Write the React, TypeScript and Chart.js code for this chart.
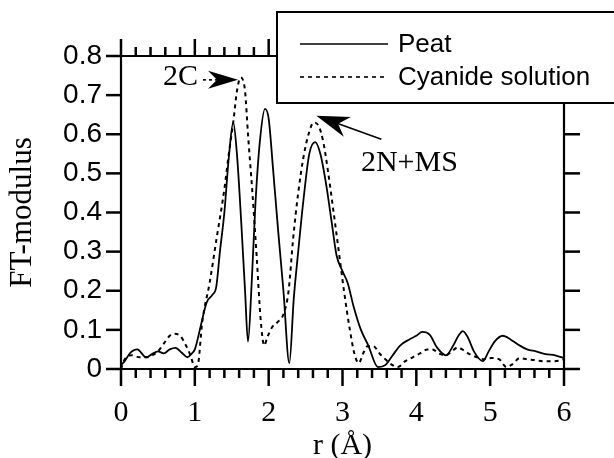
import React, { useEffect, useRef } from "react";
import { Chart, registerables } from "chart.js";

Chart.register(...registerables);

// ---- data ----
const seriesLabels = ["Peat", "Cyanide solution"];

const peatR = [
  0.0, 0.05, 0.12, 0.22, 0.34, 0.42, 0.5, 0.58, 0.66, 0.74, 0.82, 0.9, 0.96, 1.0,
  1.08, 1.16, 1.24, 1.29, 1.34, 1.4, 1.46, 1.52, 1.57, 1.63, 1.68, 1.72, 1.77,
  1.82, 1.88, 1.95, 2.0, 2.06, 2.13, 2.2, 2.28, 2.34, 2.4, 2.47, 2.55, 2.63, 2.7,
  2.78, 2.85, 2.92, 3.0, 3.07, 3.15, 3.25, 3.35, 3.48, 3.58, 3.68, 3.78, 3.9, 4.0,
  4.08, 4.18, 4.28, 4.4, 4.5, 4.57, 4.63, 4.7, 4.78, 4.9, 4.98, 5.06, 5.17, 5.28,
  5.4, 5.5, 5.62, 5.75, 5.88, 6.0,
];
const peatV = [
  0.01, 0.02, 0.04, 0.05, 0.03, 0.038, 0.045, 0.04, 0.05, 0.054, 0.042, 0.03, 0.04, 0.05,
  0.11, 0.17, 0.19, 0.21, 0.3, 0.4, 0.54, 0.63, 0.55, 0.37, 0.2, 0.07, 0.22,
  0.42, 0.58, 0.665, 0.64, 0.51, 0.35, 0.2, 0.015, 0.18, 0.3, 0.43, 0.55, 0.58, 0.55,
  0.47, 0.38, 0.29, 0.25, 0.22, 0.16, 0.1, 0.06, 0.005, 0.01, 0.035, 0.06, 0.075, 0.085,
  0.095, 0.088, 0.055, 0.035, 0.06, 0.085, 0.097, 0.08, 0.045, 0.02, 0.045, 0.07, 0.085, 0.075,
  0.06, 0.05, 0.045, 0.038, 0.035, 0.028,
];

const cyanR = [
  0.0, 0.05, 0.15, 0.25, 0.35, 0.42, 0.5, 0.58, 0.66, 0.72, 0.8, 0.88, 0.94, 1.0,
  1.04, 1.1, 1.2, 1.3, 1.4, 1.46, 1.52, 1.57, 1.62, 1.68, 1.72, 1.78, 1.84, 1.89,
  1.94, 1.98, 2.04, 2.12, 2.2, 2.27, 2.33, 2.4, 2.47, 2.54, 2.61, 2.68, 2.74, 2.8,
  2.88, 2.95, 3.02, 3.1, 3.16, 3.22, 3.28, 3.34, 3.42, 3.5, 3.58, 3.66, 3.75, 3.85,
  3.95, 4.05, 4.15, 4.22, 4.3, 4.4, 4.48, 4.56, 4.64, 4.72, 4.82, 4.92, 5.02, 5.12,
  5.22, 5.3, 5.4, 5.5, 5.6, 5.72, 5.85, 5.95, 6.0,
];
const cyanV = [
  0.0, 0.025, 0.035, 0.03, 0.03, 0.035, 0.045, 0.065, 0.085, 0.09, 0.085, 0.06, 0.035, 0.005,
  0.01, 0.12, 0.22, 0.34, 0.46, 0.55, 0.63, 0.71, 0.745, 0.71, 0.6, 0.45, 0.28, 0.13,
  0.06, 0.08, 0.105, 0.12, 0.14, 0.2, 0.33, 0.45, 0.54, 0.6, 0.63, 0.62, 0.58, 0.51,
  0.4, 0.3, 0.2, 0.1, 0.04, 0.015, 0.04, 0.058, 0.058, 0.04, 0.025, 0.012, 0.005, 0.02,
  0.03, 0.04, 0.05, 0.05, 0.04, 0.035, 0.045, 0.055, 0.048, 0.038, 0.03, 0.025, 0.028, 0.025,
  0.005, 0.012, 0.028, 0.025, 0.023, 0.02, 0.02, 0.022, 0.025,
];

const xTicks = [0, 1, 2, 3, 4, 5, 6];
const xMinorStep = 0.2;
const yTicks = [0, 0.1, 0.2, 0.3, 0.4, 0.5, 0.6, 0.7, 0.8];

const xTitle = "r (Å)";
const yTitle = "FT-modulus";

// annotations (data coordinates)
const label2C = { text: "2C", r: 0.57, v: 0.746 };
const arrow2C = { from: [1.11, 0.739], to: [1.585, 0.739] };
const label2N = { text: "2N+MS", r: 3.25, v: 0.5265 };
const arrow2N = { from: [3.526, 0.5875], to: [2.645, 0.647] };

const SANS = "'Liberation Sans', Arial, Helvetica, sans-serif";
const SERIF = "'Liberation Serif', 'Times New Roman', serif";

function drawArrow(
  ctx: CanvasRenderingContext2D,
  x1: number, y1: number, x2: number, y2: number,
  len: number, halfW: number, dashed: boolean
) {
  const dx = x2 - x1, dy = y2 - y1;
  const d = Math.hypot(dx, dy);
  const ux = dx / d, uy = dy / d;
  const nx = -uy, ny = ux;
  ctx.save();
  ctx.strokeStyle = "#000";
  ctx.fillStyle = "#000";
  ctx.lineWidth = 1.6;
  ctx.setLineDash(dashed ? [3, 3] : []);
  ctx.beginPath();
  ctx.moveTo(x1, y1);
  ctx.lineTo(x2 - ux * len * 0.6, y2 - uy * len * 0.6);
  ctx.stroke();
  ctx.setLineDash([]);
  ctx.beginPath();
  ctx.moveTo(x2, y2);
  ctx.lineTo(x2 - ux * len + nx * halfW, y2 - uy * len + ny * halfW);
  ctx.lineTo(x2 - ux * len * 0.7, y2 - uy * len * 0.7);
  ctx.lineTo(x2 - ux * len - nx * halfW, y2 - uy * len - ny * halfW);
  ctx.closePath();
  ctx.fill();
  ctx.restore();
}

const framePlugin = {
  id: "frame",
  afterDraw(chart: any) {
    const ctx: CanvasRenderingContext2D = chart.ctx;
    const xs = chart.scales.x;
    const ys = chart.scales.y;
    const L = xs.left, R = xs.right, T = ys.top, B = ys.bottom;
    const line = (a: number, b: number, c: number, d: number) => {
      ctx.beginPath();
      ctx.moveTo(a, b);
      ctx.lineTo(c, d);
      ctx.stroke();
    };
    ctx.save();
    ctx.strokeStyle = "#000";
    ctx.lineWidth = 2.2;
    ctx.lineCap = "butt";
    // frame lines
    line(L - 15, B, R + 16, B);
    line(L - 15, T, R + 16, T);
    line(L, T, L, B);
    line(R, T, R, B);
    // y ticks (outward, both sides)
    ctx.lineWidth = 2.5;
    for (const v of yTicks) {
      const y = ys.getPixelForValue(v);
      line(L - 15, y, L, y);
      line(R, y, R + 16, y);
    }
    // x ticks (outward, top and bottom), with minor ticks
    const xmin = xTicks[0], xmax = xTicks[xTicks.length - 1];
    const n = Math.round((xmax - xmin) / xMinorStep);
    for (let i = 0; i <= n; i++) {
      const v = xmin + i * xMinorStep;
      const x = xs.getPixelForValue(v);
      const major = xTicks.some((t) => Math.abs(t - v) < 1e-6);
      const len = major ? 17 : 9;
      line(x, B, x, B + len);
      line(x, T, x, T - len);
    }
    ctx.restore();

    // annotations
    const px = (r: number) => xs.getPixelForValue(r);
    const py = (v: number) => ys.getPixelForValue(v);
    ctx.save();
    ctx.fillStyle = "#000";
    ctx.font = `30px ${SERIF}`;
    ctx.textBaseline = "middle";
    ctx.textAlign = "left";
    ctx.fillText(label2C.text, px(label2C.r), py(label2C.v));
    ctx.fillText(label2N.text, px(label2N.r), py(label2N.v));
    ctx.restore();
    drawArrow(ctx, px(arrow2C.from[0]), py(arrow2C.from[1]), px(arrow2C.to[0]), py(arrow2C.to[1]), 30, 9, true);
    drawArrow(ctx, px(arrow2N.from[0]), py(arrow2N.from[1]), px(arrow2N.to[0]), py(arrow2N.to[1]), 33, 10.5, false);

    // legend box (overlapping the top-right of the frame)
    ctx.save();
    ctx.fillStyle = "#fff";
    ctx.fillRect(277, 12, 345, 91);
    ctx.strokeStyle = "#000";
    ctx.lineWidth = 2;
    ctx.strokeRect(277, 12, 345, 91);
    const ds = chart.data.datasets;
    const rows = [44, 77];
    ds.forEach((d: any, i: number) => {
      ctx.lineWidth = 1.6;
      ctx.setLineDash(d.borderDash || []);
      ctx.beginPath();
      ctx.moveTo(300, rows[i]);
      ctx.lineTo(388, rows[i]);
      ctx.stroke();
      ctx.setLineDash([]);
      ctx.fillStyle = "#000";
      ctx.font = `26px ${SANS}`;
      ctx.textBaseline = "middle";
      ctx.textAlign = "left";
      ctx.fillText(d.label, 398, rows[i] + 1);
    });
    ctx.restore();
  },
};

export default function App() {
  const ref = useRef<HTMLCanvasElement | null>(null);

  useEffect(() => {
    if (!ref.current) return;
    const chart = new Chart(ref.current, {
      type: "line",
      data: {
        datasets: [
          {
            label: seriesLabels[0],
            data: peatR.map((r, i) => ({ x: r, y: peatV[i] })),
            borderColor: "#000",
            borderWidth: 1.8,
            pointRadius: 0,
            cubicInterpolationMode: "monotone",
            fill: false,
          },
          {
            label: seriesLabels[1],
            data: cyanR.map((r, i) => ({ x: r, y: cyanV[i] })),
            borderColor: "#000",
            borderWidth: 2,
            borderDash: [4, 4],
            pointRadius: 0,
            cubicInterpolationMode: "monotone",
            fill: false,
          },
        ],
      },
      options: {
        animation: false,
        responsive: false,
        devicePixelRatio: 1,
        layout: { padding: { left: 0, top: 56, right: 50, bottom: 0 } },
        plugins: {
          legend: { display: false },
          tooltip: { enabled: false },
        },
        scales: {
          x: {
            type: "linear",
            min: xTicks[0],
            max: xTicks[xTicks.length - 1],
            afterFit: (s: any) => {
              s.height = 89;
            },
            afterBuildTicks: (s: any) => {
              s.ticks = xTicks.map((v) => ({ value: v }));
            },
            ticks: {
              color: "#000",
              font: { family: SERIF, size: 30 },
              padding: 26,
              maxRotation: 0,
              autoSkip: false,
              callback: (v: any) => String(v),
            },
            grid: { display: false, drawTicks: false, tickLength: 0 },
            border: { display: false },
            title: {
              display: true,
              text: xTitle,
              color: "#000",
              font: { family: SERIF, size: 30, lineHeight: 0.8 },
              padding: { top: 0, bottom: 0 },
            },
          },
          y: {
            type: "linear",
            min: yTicks[0],
            max: yTicks[yTicks.length - 1],
            afterFit: (s: any) => {
              s.width = 121;
            },
            afterBuildTicks: (s: any) => {
              s.ticks = yTicks.map((v) => ({ value: v }));
            },
            ticks: {
              color: "#000",
              font: { family: SANS, size: 28 },
              padding: 19,
              autoSkip: false,
              callback: (v: any) => (v === 0 ? "0" : Number(v).toFixed(1)),
            },
            grid: { display: false, drawTicks: false, tickLength: 0 },
            border: { display: false },
            title: {
              display: true,
              text: yTitle,
              color: "#000",
              font: { family: SERIF, size: 31, lineHeight: 1.2 },
              padding: { top: 4.5, bottom: 0 },
            },
          },
        },
      },
      plugins: [framePlugin],
    } as any);
    return () => chart.destroy();
  }, []);

  return (
    <div style={{ position: "fixed", left: 0, top: 0, width: 614, height: 458, background: "#fff" }}>
      <canvas ref={ref} width={614} height={458} style={{ display: "block", width: 614, height: 458 }} />
    </div>
  );
}
